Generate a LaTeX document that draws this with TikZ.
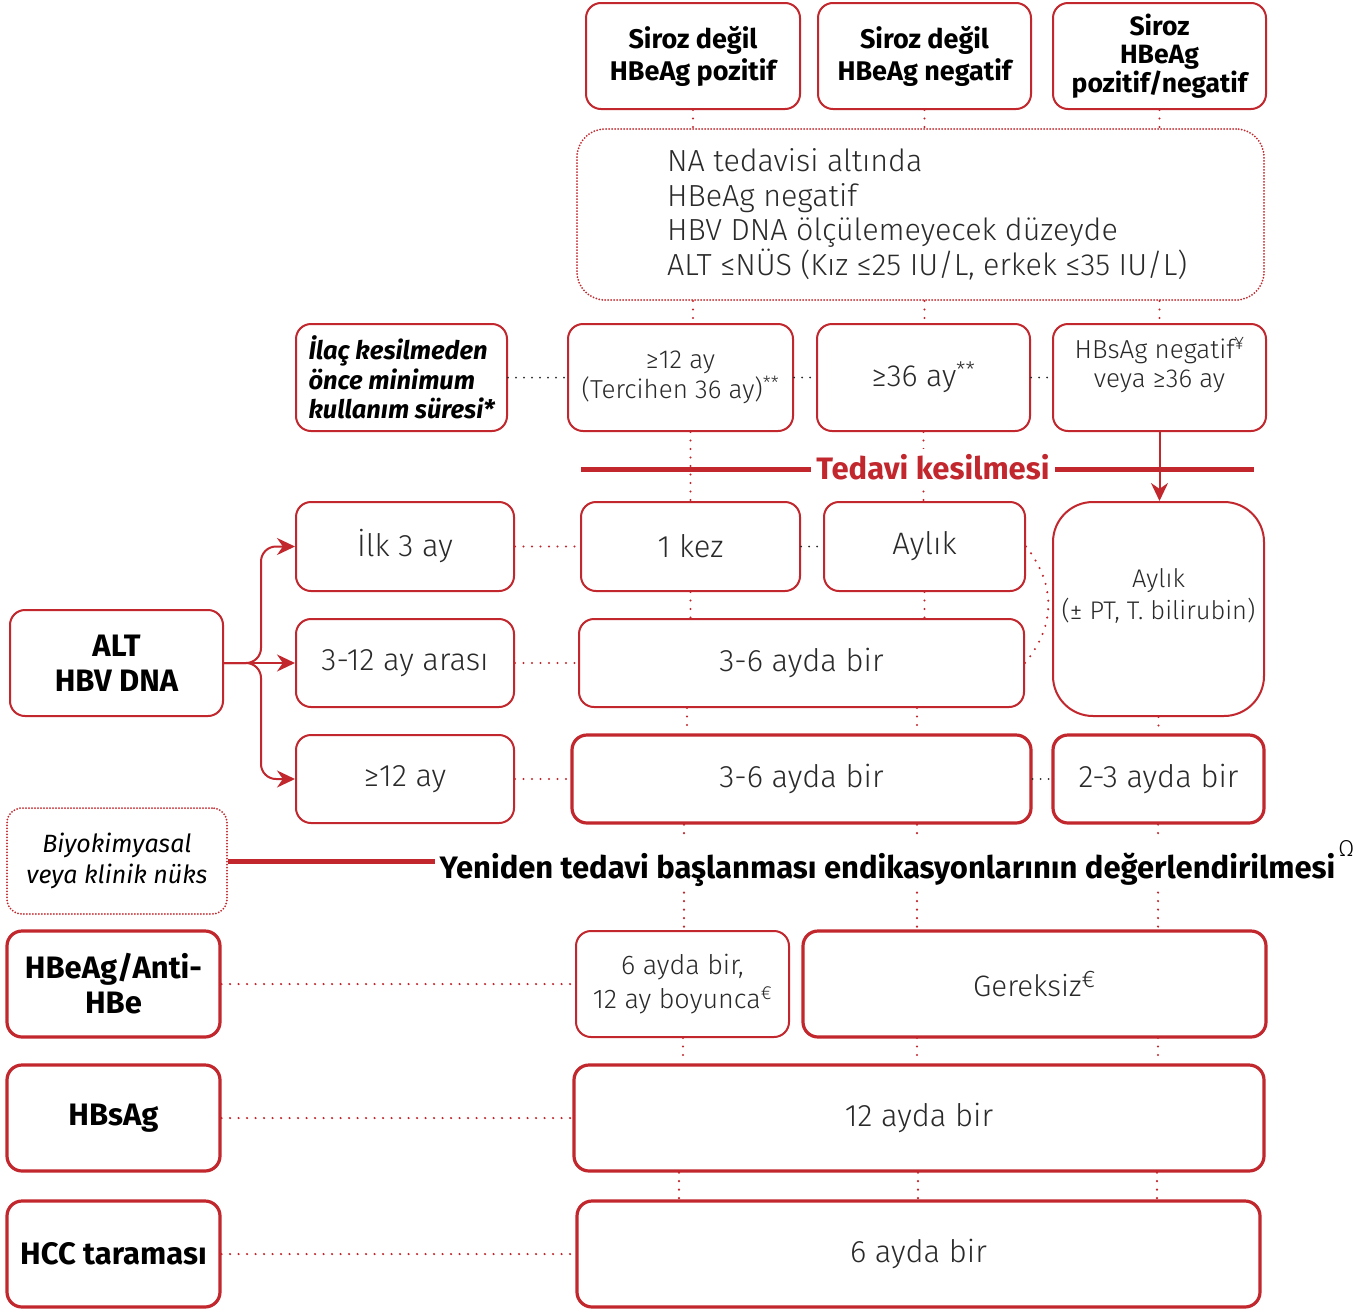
\documentclass[tikz,border=0pt]{standalone}
\usepackage{fontspec}
\setmainfont{Fira Sans Light}[BoldFont={Fira Sans Bold},ItalicFont={Fira Sans Italic},BoldItalicFont={Fira Sans Bold Italic}]
\usetikzlibrary{arrows.meta}
\definecolor{hred}{HTML}{C1272D}
\definecolor{htext}{HTML}{2A2A2A}
\newcommand{\sz}[2]{\fontsize{#1}{#2}\selectfont}

\begin{document}
\begin{tikzpicture}[x=1pt,y=-1pt,
  box/.style={draw=hred,line width=2pt,rounded corners=15pt,align=center,text=htext,inner sep=0pt},
  thickbox/.style={box,line width=3.2pt},
  hdr/.style={font=\bfseries\sz{27}{32},text=black},
  head/.style={font=\bfseries\sz{31}{35},text=black},
  big/.style={font=\sz{31}{34}},
  inlabel/.style={align=center,text=htext,inner sep=0pt},
  reddots/.style={draw=hred,line width=2.3pt,line cap=round,dash pattern=on 0pt off 8.5pt},
  greydots/.style={draw=htext,line width=2pt,line cap=round,dash pattern=on 0pt off 8pt},
  fence/.style={draw=hred,line width=2pt,line cap=round,dash pattern=on 0pt off 3pt},
  bar/.style={draw=hred,line width=5pt},
  arr/.style={draw=hred,line width=2pt,-{Stealth[length=18pt,width=17pt]}}]
\path[use as bounding box,fill=white] (0,0) rectangle (1358,1312);

% patient groups
\node[box,hdr,minimum width=214,minimum height=106] (sirozpos) at (693,56) {Siroz değil\\HBeAg pozitif};
\node[box,hdr,minimum width=213,minimum height=106] (sirozneg) at (924.5,56) {Siroz değil\\HBeAg negatif};
\node[box,hdr,font=\bfseries\sz{26.5}{28.5},minimum width=213,minimum height=106] (siroz) at (1159.5,56) {Siroz\\HBeAg\\pozitif/negatif};

\node[box,fence,rounded corners=28pt,minimum width=687,minimum height=171,
  label={[inlabel,anchor=west,xshift=91,align=left,font=\sz{30.5}{34.5}]west:{NA tedavisi altında\\HBeAg negatif\\HBV DNA ölçülemeyecek düzeyde\\ALT ≤NÜS (Kız ≤25 IU/L, erkek ≤35 IU/L)}}] (na) at (920.5,214.5) {};

% minimum duration
\node[box,font=\bfseries\itshape\sz{25.5}{29.5},text=black,align=left,minimum width=211,minimum height=107] (ilac) at (401.5,377.5) {İlaç kesilmeden\\önce minimum\\kullanım süresi*};
\node[box,font=\sz{26}{29.5},minimum width=225,minimum height=107] (b1) at (680.5,377.5) {≥12 ay\\(Tercihen 36 ay)\textsuperscript{**}};
\node[box,font=\sz{30.5}{34},minimum width=213,minimum height=107] (b2) at (923.5,377.5) {≥36 ay\textsuperscript{**}};
\node[box,minimum width=213,minimum height=107,
  label={[inlabel,yshift=12,font=\sz{26}{29}]center:{HBsAg negatif\textsuperscript{¥}\\veya ≥36 ay}}] (b3) at (1159.5,377.5) {};

% follow-up after stopping
\node[box,big,minimum width=218,minimum height=89] (c0) at (405,546.5) {İlk 3 ay};
\node[box,big,minimum width=219,minimum height=89] (c1) at (690.5,546.5) {1 kez};
\node[box,big,minimum width=201,minimum height=89] (c2) at (924.5,546.5) {Aylık};
\node[box,rounded corners=40pt,minimum width=211,minimum height=214,
  label={[inlabel,yshift=13,font=\sz{25.5}{32}]center:{Aylık\\(± PT, T. bilirubin)}}] (c4) at (1158.5,609) {};
\node[box,big,minimum width=218,minimum height=88] (d0) at (405,663) {3-12 ay arası};
\node[box,big,minimum width=445,minimum height=88] (d1) at (801.5,663) {3-6 ayda bir};
\node[box,big,minimum width=218,minimum height=88] (e0) at (405,779) {≥12 ay};
\node[thickbox,big,minimum width=459,minimum height=88] (e1) at (801.5,779) {3-6 ayda bir};
\node[thickbox,big,minimum width=211,minimum height=88] (e2) at (1158.5,779) {2-3 ayda bir};

\node[box,head,minimum width=213,minimum height=106] (alt) at (116.5,663) {ALT\\HBV DNA};
\node[box,fence,font=\itshape\sz{25}{31},text=black,minimum width=220,minimum height=106] (bio) at (117,861) {Biyokimyasal\\veya klinik nüks};

% other tests
\node[thickbox,head,minimum width=213,minimum height=106] (f0) at (113.5,984) {HBeAg/Anti-\\HBe};
\node[box,font=\sz{27}{34},minimum width=213,minimum height=106] (f1) at (682.5,984) {6 ayda bir,\\12 ay boyunca\textsuperscript{€}};
\node[thickbox,font=\sz{29.5}{34},minimum width=463,minimum height=106] (f2) at (1034.5,984) {Gereksiz\textsuperscript{\sz{24}{24}€}};
\node[thickbox,head,minimum width=213,minimum height=106] (g0) at (113.5,1118) {HBsAg};
\node[thickbox,big,minimum width=690,minimum height=106] (g1) at (919,1118) {12 ayda bir};
\node[thickbox,head,minimum width=213,minimum height=106] (h0) at (113.5,1254) {HCC taraması};
\node[thickbox,big,minimum width=683,minimum height=106] (h1) at (918.5,1254) {6 ayda bir};

% dotted links
\foreach \src/\dst in {sirozpos/b1,sirozneg/b2,siroz/b3}{
  \draw[reddots] (\src.south) -- (\src.south |- na.north);
  \draw[reddots] (\src.south |- na.south) -- (\src.south |- \dst.north);
}
\draw[reddots] (c1.north |- b1.south) -- (c1.north);
\draw[reddots] (b2.south) -- (b2.south |- c2.north);
\draw[reddots] (c1.south) -- (c1.south |- d1.north);
\draw[reddots] (c2.south) -- (c2.south |- d1.north);
\foreach \x in {687,917} \draw[reddots] (\x,0 |- d1.south) -- (\x,0 |- e1.north);
\draw[reddots] (c4.south) -- (c4.south |- e2.north);
\foreach \x in {684,917,1158} \draw[reddots] (\x,0 |- e1.south) -- (\x,0 |- f1.north);
\foreach \x in {683,917,1158} \draw[reddots] (\x,0 |- f1.south) -- (\x,0 |- g1.north);
\foreach \x in {679,918,1157} \draw[reddots] (\x,0 |- g1.south) -- (\x,0 |- h1.north);

\foreach \a/\b in {ilac/b1,b1/b2,b2/b3,c1/c2,e1/e2} \draw[greydots] (\a.east) -- (\b.west);
\foreach \a/\b in {c0/c1,d0/d1,e0/e1,f0/f1,g0/g1,h0/h1} \draw[reddots] (\a.east) -- (\b.west);
\draw[reddots] (c2.east) .. controls (1056,585) and (1056,625) .. (d1.east);

% stopping treatment
\coordinate (kesL) at (581,469);
\coordinate (kesR) at (1254,469);
\draw[bar] (kesL) -- (kesR);
\node[fill=white,inner sep=5pt,text=hred,font=\bfseries\sz{31}{34}] (kes) at (933,467) {Tedavi kesilmesi};
\draw[arr] (b3.south) -- (b3.south |- c4.north);

% ALT / HBV DNA branches
\draw[arr] (alt.east) -- (d0.west);
\foreach \t in {c0,e0}
  \draw[arr,rounded corners=15pt] (alt.east) -- ++(37,0) |- (\t.west);

% relapse
\node[fill=white,inner sep=4pt,font=\bfseries\sz{31}{34},text=black] (yeniden) at (887.5,864)
  {Yeniden tedavi başlanması endikasyonlarının değerlendirilmesi\rlap{\hspace{3pt}\raisebox{22pt}{\mdseries\sz{23}{23}Ω}}};
\draw[bar] (bio.east) -- (bio.east -| yeniden.west);
\end{tikzpicture}
\end{document}
